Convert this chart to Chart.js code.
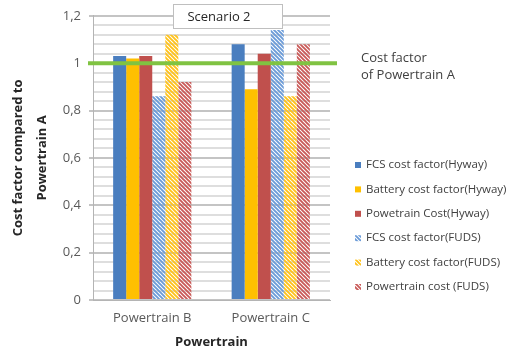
<!DOCTYPE html>
<html>
<head>
<meta charset="utf-8">
<script src="https://cdn.jsdelivr.net/npm/chart.js@4/dist/chart.umd.min.js"></script>
<style>
  html, body { margin: 0; padding: 0; background: #ffffff; }
  #wrap { width: 520px; height: 349px; position: relative; }
</style>
</head>
<body>
<div id="wrap"><canvas id="c" width="520" height="349"></canvas></div>
<script>
// Cost factors relative to Powertrain A (Scenario 2)
const categories = ['Powertrain B', 'Powertrain C'];
const fcsHyway = [1.03, 1.08];
const batteryHyway = [1.02, 0.89];
const powertrainHyway = [1.03, 1.04];
const fcsFuds = [0.86, 1.14];
const batteryFuds = [1.12, 0.86];
const powertrainFuds = [0.92, 1.08];
const seriesLabels = [
  'FCS cost factor(Hyway)',
  'Battery cost factor(Hyway)',
  'Powetrain Cost(Hyway)',
  'FCS cost factor(FUDS)',
  'Battery cost factor(FUDS)',
  'Powertrain cost (FUDS)'
];
const yTicks = [0, 0.2, 0.4, 0.6, 0.8, 1, 1.2];
const minorDivisions = 5;
const referenceValue = 1;
const chartTitle = 'Scenario 2';
const referenceLabel = ['Cost factor', 'of Powertrain A'];

const FONT = "'Open Sans', sans-serif";
Chart.defaults.font.family = FONT;

// Diagonal hatch fill for the FUDS series
function hatch(color) {
  const s = 4;
  const cv = document.createElement('canvas');
  cv.width = s; cv.height = s;
  const g = cv.getContext('2d');
  g.strokeStyle = color;
  g.lineWidth = 1.9;
  g.beginPath();
  for (const k of [-s, 0, s]) {
    g.moveTo(k - 1, -1);
    g.lineTo(k + s + 1, s + 1);
  }
  g.stroke();
  return g.createPattern(cv, 'repeat');
}

const ctx = document.getElementById('c').getContext('2d');

const datasets = [
  { label: seriesLabels[0], data: fcsHyway, backgroundColor: '#4a7ebf' },
  { label: seriesLabels[1], data: batteryHyway, backgroundColor: '#ffc000' },
  { label: seriesLabels[2], data: powertrainHyway, backgroundColor: '#c0504d' },
  { label: seriesLabels[3], data: fcsFuds, backgroundColor: hatch('#6b9bd8') },
  { label: seriesLabels[4], data: batteryFuds, backgroundColor: hatch('#ffc21a') },
  { label: seriesLabels[5], data: powertrainFuds, backgroundColor: hatch('#c95a58') }
];

function isMajor(v) {
  return yTicks.some(t => Math.abs(t - v) < 1e-6);
}

// Minor gridlines between the labelled ticks
const minorGrid = {
  id: 'minorGrid',
  beforeDatasetsDraw(chart) {
    const c = chart.ctx;
    const area = chart.chartArea;
    const ys = chart.scales.y;
    c.save();
    c.strokeStyle = '#dedede';
    c.lineWidth = 1.6;
    for (let i = 0; i < yTicks.length - 1; i++) {
      const step = (yTicks[i + 1] - yTicks[i]) / minorDivisions;
      for (let j = 1; j < minorDivisions; j++) {
        const py = Math.round(ys.getPixelForValue(yTicks[i] + j * step));
        c.beginPath();
        c.moveTo(area.left + 1, py);
        c.lineTo(area.right, py);
        c.stroke();
      }
    }
    c.restore();
  }
};

const extras = {
  id: 'extras',
  afterDatasetsDraw(chart) {
    const c = chart.ctx;
    const area = chart.chartArea;
    const y = chart.scales.y.getPixelForValue(referenceValue);
    c.save();
    // reference line
    c.strokeStyle = '#80c342';
    c.lineWidth = 4;
    c.beginPath();
    c.moveTo(area.left - 5, y);
    c.lineTo(area.right + 7, y);
    c.stroke();

    // title box
    c.fillStyle = '#ffffff';
    c.strokeStyle = '#bfbfbf';
    c.lineWidth = 1;
    c.fillRect(173, 4, 110, 25);
    c.strokeRect(173.5, 4.5, 109, 24);
    c.fillStyle = '#262626';
    c.font = '13px ' + FONT;
    c.textAlign = 'center';
    c.textBaseline = 'middle';
    c.fillText(chartTitle, 219, 17);

    // reference annotation
    c.fillStyle = '#404040';
    c.textAlign = 'left';
    c.font = '13px ' + FONT;
    c.fillText(referenceLabel[0], 361, 58);
    c.fillText(referenceLabel[1], 361, 75);

    // legend
    c.font = '11.5px ' + FONT;
    chart.data.datasets.forEach((ds, i) => {
      const ly = 165 + i * 24.4;
      c.fillStyle = ds.backgroundColor;
      c.fillRect(355, ly - 3, 6, 6);
      c.fillStyle = '#404040';
      c.fillText(ds.label, 366, ly);
    });
    c.restore();
  }
};

new Chart(ctx, {
  type: 'bar',
  data: { labels: categories, datasets },
  options: {
    responsive: false,
    animation: false,
    layout: { padding: { left: 0, right: 190, top: 15, bottom: 0 } },
    plugins: { legend: { display: false }, tooltip: { enabled: false } },
    datasets: { bar: { barPercentage: 1, categoryPercentage: 0.66, borderWidth: 0 } },
    scales: {
      x: {
        grid: { display: false },
        border: { color: '#b4b4b4' },
        ticks: { color: '#595959', font: { size: 13 }, padding: 2 },
        title: {
          display: true, text: 'Powertrain', color: '#262626',
          font: { size: 13, weight: 'bold', lineHeight: 1.0 }, padding: { top: 2, bottom: 0 }
        },
        afterFit(scale) { scale.height = 49; }
      },
      y: {
        min: 0, max: 1.2,
        border: { color: '#b4b4b4' },
        grid: {
          drawTicks: true,
          tickLength: 4,
          lineWidth: 2,
          color: (ctx) => isMajor(ctx.tick.value) ? '#c4c4c4' : '#dddddd',
          tickColor: (ctx) => isMajor(ctx.tick.value) ? '#c4c4c4' : 'rgba(0,0,0,0)'
        },
        ticks: {
          stepSize: 0.04,
          autoSkip: false,
          crossAlign: 'near',
          color: '#595959',
          font: { size: 13 },
          padding: 8,
          callback: (v) => isMajor(v) ? String(Math.round(v * 10) / 10).replace('.', ',') : ''
        },
        title: {
          display: true,
          text: ['Cost factor compared to', 'Powertrain A'],
          color: '#262626',
          font: { size: 13, weight: 'bold', lineHeight: 1.85 },
          padding: { top: 6, bottom: 0 }
        },
        afterFit(scale) { scale.width = 93; }
      }
    }
  },
  plugins: [minorGrid, extras]
});
</script>
</body>
</html>
